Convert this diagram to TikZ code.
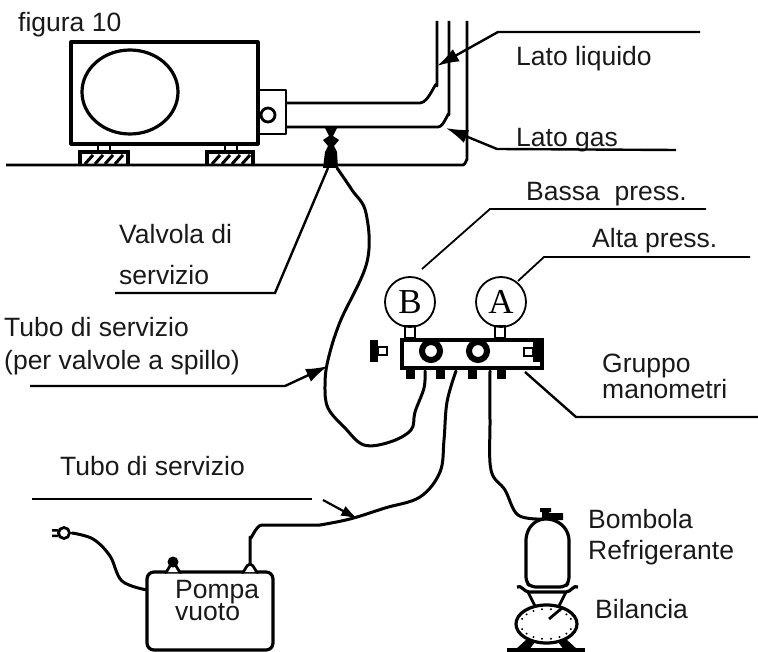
\documentclass[tikz,border=0pt]{standalone}
\usepackage{fontspec}
\setmainfont{Liberation Sans}
\usepackage{tikz}
\usetikzlibrary{arrows.meta}
\tikzset{caption/.style={anchor=base west,inner sep=0pt,font=\fontsize{26.5}{30}\selectfont,text=black!90}}
\tikzset{pipe/.style={draw,line width=2.8pt,line join=round}}
\tikzset{body/.style={draw,line width=3.2pt,line join=round}}
\tikzset{hose/.style={draw,line width=3pt,line cap=round,line join=round}}
\tikzset{leader/.style={draw,line width=1.8pt}}
\tikzset{pointer/.style={leader,line width=2.4pt,-{Latex[length=22pt,width=14pt]}}}
\newfontfamily\gaugefont{Liberation Serif}
\tikzset{gauge/.style={draw,circle,line width=1.8pt,minimum size=50pt,inner sep=0pt,font=\fontsize{35}{35}\selectfont\gaugefont}}
\begin{document}
\begin{tikzpicture}[x=1pt,y=-1pt]
    \useasboundingbox (0,0) rectangle (758,652);
    % Outdoor unit
    \draw[body] (71,42) rectangle (258,144);
    \draw[body] (130,92) ellipse (48 and 42);
    \draw[pipe] (258,90) rectangle (286,134);
    \draw[pipe] (268,115) circle (7);
    % Feet of the unit
    \foreach \fx/\fw in {80/48,207/46}{%
          \draw[line width=4pt,fill=white] (\fx,165) -- (\fx,152) -- (\fx+\fw,152) -- (\fx+\fw,165);
          \draw[pipe] (\fx+18,144) -- (\fx+18,151) (\fx+30,144) -- (\fx+30,151);
          \foreach \hx in {5,15,25,35}{%
                \draw[line width=3pt] (\fx+\hx,164) -- (\fx+\hx+8,155);
              }
        }
    % Ground and pipes
    \draw[pipe] (6,165) -- (463,165) to[out=0,in=90] (467,160) -- (467,21);
    \draw[pipe] (286,103) -- (420,103) to[out=0,in=90] (437,86) -- (437,21);
    \draw[pipe] (286,127) -- (438,127) to[out=0,in=90] (449,115) -- (449,21);
    % Service valve
    \coordinate (valve) at (328,168);
    \fill (325,128) -- (337,128) -- (333,136) -- (339,140) -- (334,146) -- (337,152) -- (338,168) -- (323,168) -- (325,152) -- (328,146) -- (323,140) -- (329,136) -- cycle;
    % Manifold
    \node[gauge] (gaugeB) at (410,302) {B};
    \node[gauge] (gaugeA) at (501,302) {A};
    \foreach \sx in {410,500}{%
          \draw[line width=1.8pt] (\sx-5,326) rectangle (\sx+5,338);
        }
    \draw[line width=4pt] (402,340) rectangle (542,368);
    \fill (533,338) rectangle (544,362);
    \foreach \rx in {431,478}{%
          \draw[line width=6pt] (\rx,351) circle (9);
        }
    \draw[line width=1.6pt] (524,348) rectangle (533,356);
    \fill (370,340) rectangle (378,362);
    \draw[line width=1.6pt] (378,347) rectangle (387,355);
    \foreach \bx in {410,440,472,501}{%
          \fill (\bx-4.5,369) rectangle (\bx+4.5,379);
        }
    % Service hoses
    \coordinate (lowB) at (425,371);
    \coordinate (lowC) at (456,371);
    \coordinate (lowD) at (490,371);
    \coordinate (pumpOut) at (250,564);
    \coordinate (bottleIn) at (543,519);
    \coordinate (valveR) at (337,168);
    \draw[hose] plot[smooth,tension=0.6] coordinates {(lowB) (424,388) (415,412) (411,430) (390,442) (364,445) (345,428) (328,408) (325,385) (328,360) (340,322) (367,262) (366,213) (352,190) (valveR)};
    \draw[hose] plot[smooth,tension=0.6] coordinates {(lowC) (447,402) (444,440) (440,472) (420,497) (385,508) (350,519) (320,525)};
    \draw[hose] (320,525) -- (262,525) to[out=180,in=-90] (250,537) -- (pumpOut);
    \draw[hose] plot[smooth,tension=0.6] coordinates {(lowD) (490,420) (491,470) (505,490) (518,515) (bottleIn)};
    % Vacuum pump
    \draw[body,rounded corners=7pt] (147,572) rectangle (273,650);
    \foreach \kx in {173,250}{%
          \draw[pipe,fill=white] (\kx-8,572) to[out=-75,in=180] (\kx,564) to[out=0,in=-105] (\kx+8,572);
        }
    \fill (173,562) circle (5.5);
    \coordinate (cordEnd) at (147,590);
    \draw[hose] plot[smooth,tension=0.6] coordinates {(cordEnd) (122,581) (110,556) (93,539) (72,533)};
    \draw[pipe,fill=white] (64,533) circle (5.5);
    \fill (58,529) rectangle (52,531.5) (58,534.5) rectangle (52,537);
    % Bottle
    \draw[body,rounded corners=5pt] (531,525) -- (526,535) -- (526,582) -- (531,587) -- (565,587) -- (569,582) -- (569,535) -- (563,525) -- (552,519) -- (540,519) -- cycle;
    \fill (540,508) rectangle (551,512) (542,512) rectangle (549,520) (549,513) rectangle (563,520);
    % Scale
    \draw[body] (517,587) to[out=30,in=180] (529,592) -- (566,592) to[out=0,in=150] (578,587);
    \draw[pipe] (528,592) -- (535,606) (566,592) -- (559,606);
    \draw[body] (546.5,624) ellipse (30.5 and 19);
    \draw[pipe] (549,619) -- (562,608);
    \foreach \ta in {-160,-140,...,-20,20,40,...,160}{%
          \fill (546.5,624) ++(\ta:26 and 15) circle (1.1);
        }
    \fill (515,650) -- (527,639) -- (535,642) -- (529,650) -- cycle;
    \fill (578,650) -- (566,639) -- (558,642) -- (564,650) -- cycle;
    \draw[body] (507,650) -- (585,650);
    % Labels
    \node[caption] (fig) at (18,32) {figura 10};
    \node[caption] (liquid) at (516,66) {Lato liquido};
    \node[caption] (gas) at (516,147) {Lato gas};
    \node[caption] (bassa) at (526,201) {Bassa\ \ press.};
    \node[caption] (alta) at (592,248) {Alta press.};
    \node[caption] (valv1) at (119,244) {Valvola di};
    \node[caption] (valv2) at (119,285) {servizio};
    \node[caption] (tubo1) at (4,337) {Tubo di servizio};
    \node[caption] (tubo2) at (4,370) {(per valvole a spillo)};
    \node[caption] (grp1) at (602,373) {Gruppo};
    \node[caption] (grp2) at (602,399) {manometri};
    \node[caption] (tubo3) at (60,475) {Tubo di servizio};
    \node[caption] (pompa) at (175,598) {Pompa};
    \node[caption] (vuoto) at (175,620) {vuoto};
    \node[caption] (bomb1) at (588,528) {Bombola};
    \node[caption] (bomb2) at (588,559) {Refrigerante};
    \node[caption] (bil) at (595,618) {Bilancia};
    % Leader lines
    \coordinate (pLiq) at (437,66);
    \coordinate (pGas) at (446,128);
    \coordinate (pHose) at (328,366);
    \coordinate (pPump) at (358,519);
    \path[pointer] (700,32) -- (498,32) -- (pLiq);
    \path[pointer] (676,150) -- (497,149) -- (pGas);
    \path[pointer] (30,386) -- (285,386) -- (pHose);
    \path[leader] (32,499) -- (312,499);
    \path[draw,line width=2.2pt,-{Latex[length=17pt,width=11pt]}] (323,500) -- (pPump);
    \path[leader] (706,209) -- (490,209) -- (422,269);
    \path[leader] (750,257) -- (544,257) -- (518,281);
    \path[leader,line width=2.4pt] (115,293) -- (275,293) -- (valve);
    \path[leader,line width=2.4pt] (758,417) -- (576,417) -- (525,372);
\end{tikzpicture}
\end{document}
